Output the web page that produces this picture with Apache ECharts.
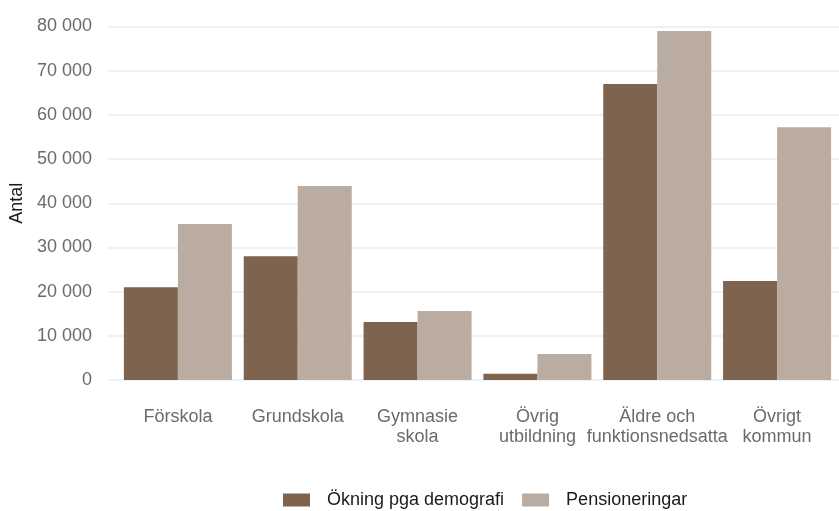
<!DOCTYPE html>
<html>
<head>
<meta charset="utf-8">
<script src="https://cdn.jsdelivr.net/npm/echarts@6/dist/echarts.min.js"></script>
<style>
  html, body { margin: 0; padding: 0; background: #fff; }
  #chart { width: 839px; height: 511px; }
</style>
</head>
<body>
<div id="chart"></div>
<script>
// kategorier och värden
const categories = ["Förskola", "Grundskola", "Gymnasie\nskola", "Övrig\nutbildning", "Äldre och\nfunktionsnedsatta", "Övrigt\nkommun"];
const demografi = [21000, 28000, 13100, 1400, 67000, 22400];
const pensioneringar = [35300, 43900, 15600, 5900, 79000, 57200];
const seriesNames = ["Ökning pga demografi", "Pensioneringar"];
const yTicks = { min: 0, max: 80000, interval: 10000 };

const font = "'Liberation Sans', Arial, sans-serif";

// tusentalsavgränsare med mellanslag
const fmt = (v) => String(v).replace(/\B(?=(\d{3})+(?!\d))/g, " ");

const chart = echarts.init(document.getElementById("chart"));

const option = {
  animation: false,
  textStyle: { fontFamily: font },
  grid: [
    // grid 0: bara y-axeln med stödlinjer
    { left: 107, right: 0, top: 26.5, bottom: 131 },
    // grid 1: staplarna
    { left: 118, right: 2, top: 26.5, bottom: 131 },
  ],
  legend: {
    left: 278,
    top: 486,
    itemWidth: 27,
    itemHeight: 13,
    itemGap: 18,
    icon: "rect",
    textStyle: { fontFamily: font, fontSize: 18, color: "#1a1a1a", padding: [0, 0, 0, 12] },
    data: seriesNames,
  },
  xAxis: [
    { gridIndex: 0, type: "value", show: false, min: 0, max: 1 },
    {
      gridIndex: 1,
      type: "category",
      data: categories,
      axisLine: { show: false },
      axisTick: { show: false },
      axisLabel: {
        margin: 27,
        fontFamily: font,
        fontSize: 18,
        lineHeight: 20,
        color: "#6b6b6b",
        interval: 0,
      },
    },
  ],
  yAxis: [
    {
      gridIndex: 0,
      type: "value",
      min: yTicks.min,
      max: yTicks.max,
      interval: yTicks.interval,
      name: "Antal",
      nameLocation: "middle",
      nameGap: 80,
      nameTextStyle: { fontFamily: font, fontSize: 18, color: "#1a1a1a" },
      axisLine: { show: false },
      axisTick: { show: false },
      axisLabel: { margin: 16, fontFamily: font, fontSize: 18, color: "#6b6b6b", formatter: fmt },
      splitLine: { lineStyle: { color: "#ebebeb", width: 1.6 } },
    },
    {
      gridIndex: 1,
      type: "value",
      min: yTicks.min,
      max: yTicks.max,
      interval: yTicks.interval,
      show: false,
      splitLine: { show: false },
    },
  ],
  series: [
    {
      name: seriesNames[0],
      type: "bar",
      xAxisIndex: 1,
      yAxisIndex: 1,
      data: demografi,
      barWidth: 54,
      barGap: "0%",
      itemStyle: { color: "#7e634e" },
    },
    {
      name: seriesNames[1],
      type: "bar",
      xAxisIndex: 1,
      yAxisIndex: 1,
      data: pensioneringar,
      barWidth: 54,
      barGap: "0%",
      itemStyle: { color: "#baaca0" },
    },
  ],
};

chart.setOption(option);
</script>
</body>
</html>
